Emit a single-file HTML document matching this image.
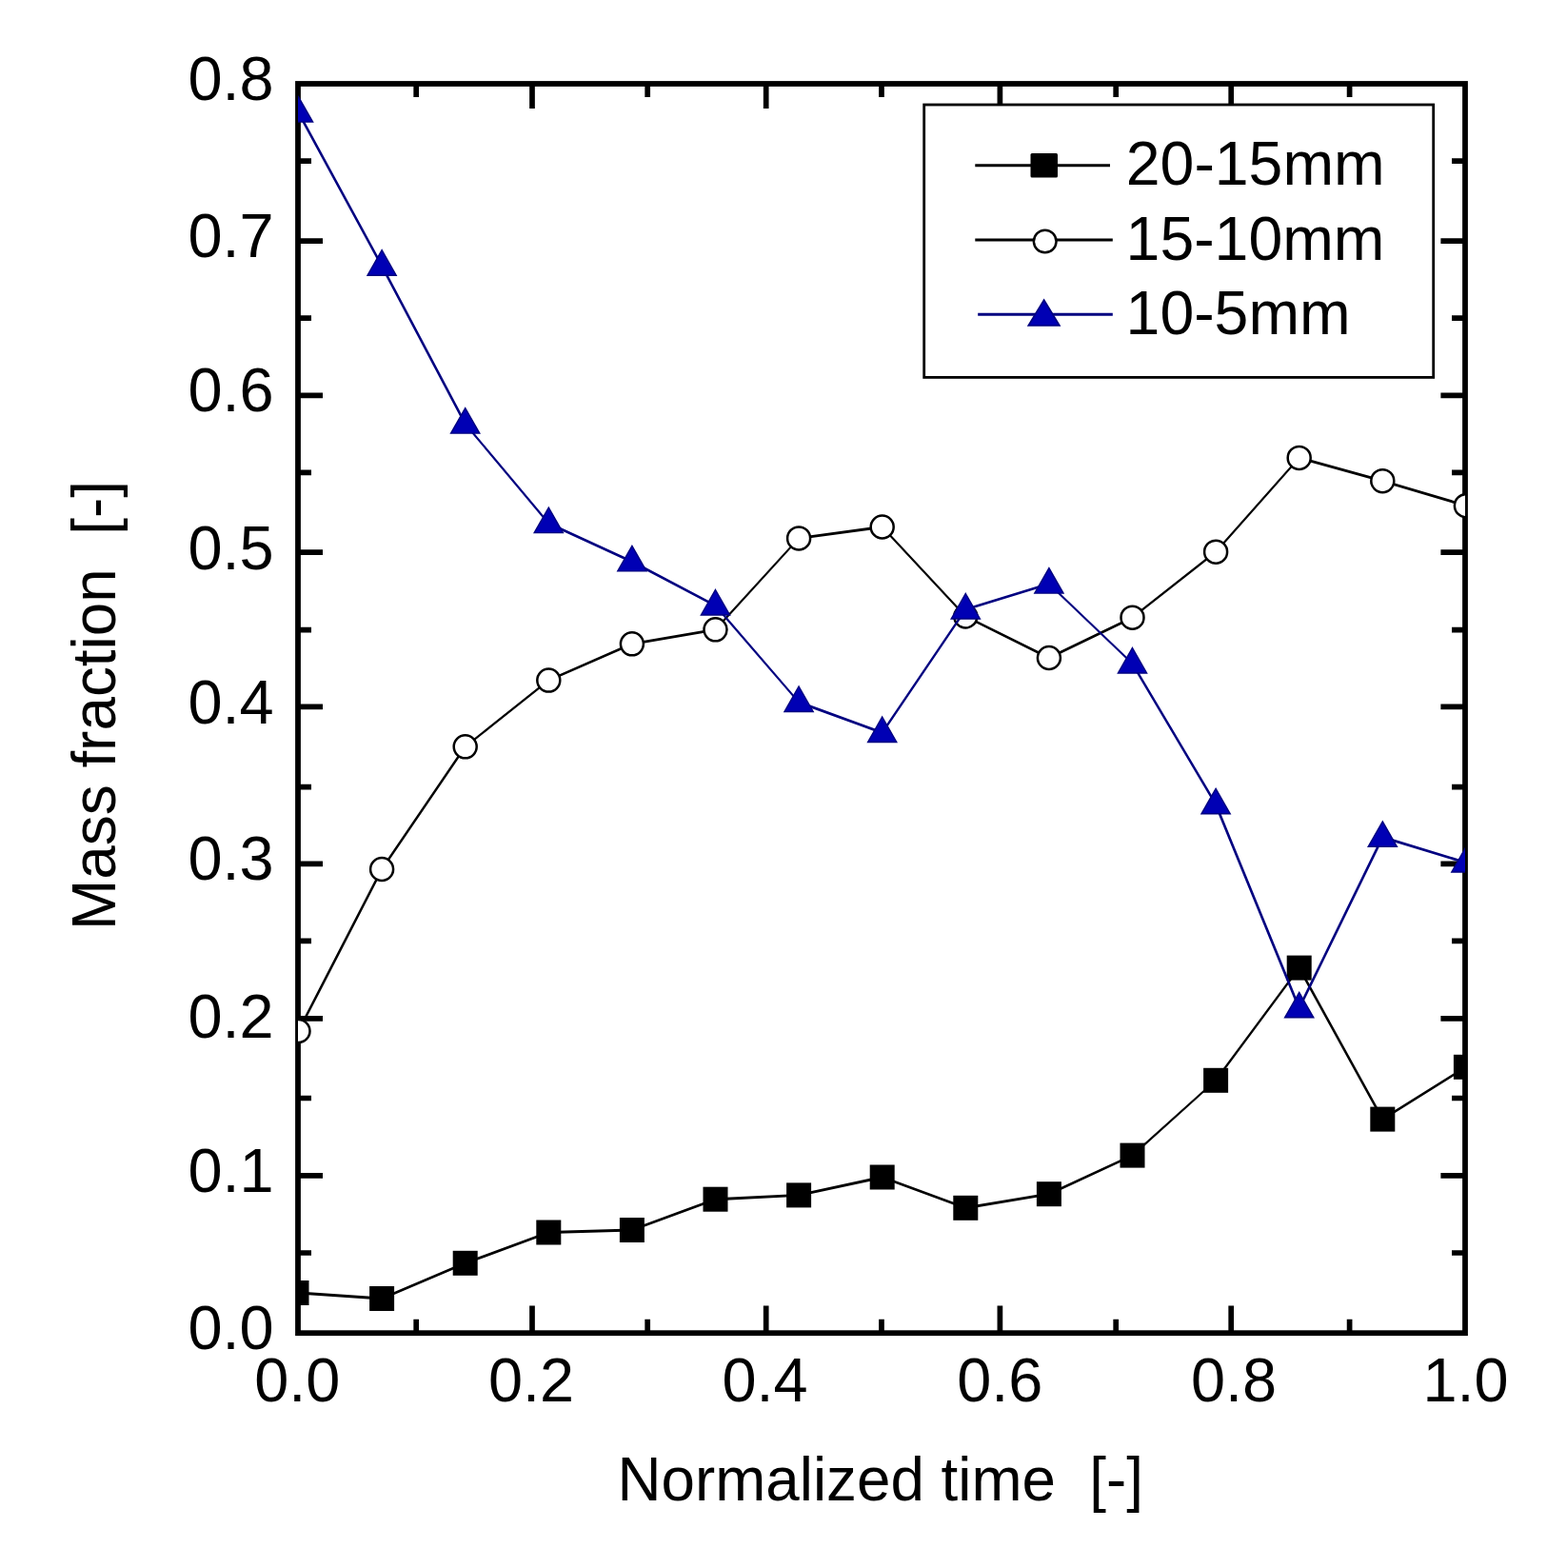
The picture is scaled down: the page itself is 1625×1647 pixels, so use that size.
<!DOCTYPE html>
<html><head><meta charset="utf-8"><title>Mass fraction vs normalized time</title>
<style>html,body{margin:0;padding:0;background:#fff;}body{width:1625px;height:1647px;overflow:hidden;}svg{display:block;}</style>
</head><body>
<svg width="1625" height="1647" viewBox="0 0 1625 1647">
<defs><clipPath id="pc"><rect x="313.0" y="88.0" width="1226.0" height="1312.2"/></clipPath></defs>
<rect width="1625" height="1647" fill="#fff"/>
<path d="M437.2 1400.2V1385.8M437.2 88.0V102.0M559.0 1400.2V1371.4M559.0 88.0V114.0M680.2 1400.2V1385.8M680.2 88.0V102.0M804.7 1400.2V1371.4M804.7 88.0V114.0M926.0 1400.2V1385.8M926.0 88.0V102.0M1050.4 1400.2V1371.4M1050.4 88.0V114.0M1172.2 1400.2V1385.8M1172.2 88.0V102.0M1293.2 1400.2V1371.4M1293.2 88.0V114.0M1417.6 1400.2V1385.8M1417.6 88.0V102.0M313.0 1316.0H327.0M1539.0 1316.0H1525.0M313.0 1234.9H339.0M1539.0 1234.9H1513.4M313.0 1153.5H327.0M1539.0 1153.5H1525.0M313.0 1069.9H339.0M1539.0 1069.9H1513.4M313.0 988.4H327.0M1539.0 988.4H1525.0M313.0 907.4H339.0M1539.0 907.4H1513.4M313.0 826.7H327.0M1539.0 826.7H1525.0M313.0 742.3H339.0M1539.0 742.3H1513.4M313.0 661.6H327.0M1539.0 661.6H1525.0M313.0 580.2H339.0M1539.0 580.2H1513.4M313.0 496.4H327.0M1539.0 496.4H1525.0M313.0 415.3H339.0M1539.0 415.3H1513.4M313.0 334.2H327.0M1539.0 334.2H1525.0M313.0 253.1H339.0M1539.0 253.1H1513.4M313.0 169.1H327.0M1539.0 169.1H1525.0" stroke="#000" stroke-width="5.7" fill="none"/>
<rect x="313.0" y="88.0" width="1226.0" height="1312.2" fill="none" stroke="#000" stroke-width="5.8"/>
<g clip-path="url(#pc)">
<g stroke="#000" stroke-linecap="round"><line x1="313.5" y1="1358.0" x2="401.1" y2="1364.0" stroke-width="2.89"/><line x1="401.1" y1="1364.0" x2="488.7" y2="1326.8" stroke-width="2.67"/><line x1="488.7" y1="1326.8" x2="576.3" y2="1294.5" stroke-width="2.72"/><line x1="576.3" y1="1294.5" x2="663.9" y2="1292.0" stroke-width="2.90"/><line x1="663.9" y1="1292.0" x2="751.5" y2="1259.7" stroke-width="2.72"/><line x1="751.5" y1="1259.7" x2="839.1" y2="1255.4" stroke-width="2.90"/><line x1="839.1" y1="1255.4" x2="926.7" y2="1236.5" stroke-width="2.83"/><line x1="926.7" y1="1236.5" x2="1014.3" y2="1268.8" stroke-width="2.72"/><line x1="1014.3" y1="1268.8" x2="1101.9" y2="1254.2" stroke-width="2.86"/><line x1="1101.9" y1="1254.2" x2="1189.5" y2="1213.6" stroke-width="2.63"/><line x1="1189.5" y1="1213.6" x2="1277.1" y2="1134.8" stroke-width="2.16"/><line x1="1277.1" y1="1134.8" x2="1364.7" y2="1016.6" stroke-width="2.33"/><line x1="1364.7" y1="1016.6" x2="1452.3" y2="1175.6" stroke-width="2.54"/><line x1="1452.3" y1="1175.6" x2="1539.9" y2="1120.8" stroke-width="2.46"/></g>
<rect x="298.5" y="1345.0" width="26" height="26" fill="#000"/>
<rect x="388.1" y="1351.0" width="26" height="26" fill="#000"/>
<rect x="475.7" y="1313.8" width="26" height="26" fill="#000"/>
<rect x="563.3" y="1281.5" width="26" height="26" fill="#000"/>
<rect x="650.9" y="1279.0" width="26" height="26" fill="#000"/>
<rect x="738.5" y="1246.7" width="26" height="26" fill="#000"/>
<rect x="826.1" y="1242.4" width="26" height="26" fill="#000"/>
<rect x="913.7" y="1223.5" width="26" height="26" fill="#000"/>
<rect x="1001.3" y="1255.8" width="26" height="26" fill="#000"/>
<rect x="1088.9" y="1241.2" width="26" height="26" fill="#000"/>
<rect x="1176.5" y="1200.6" width="26" height="26" fill="#000"/>
<rect x="1264.1" y="1121.8" width="26" height="26" fill="#000"/>
<rect x="1351.7" y="1003.6" width="26" height="26" fill="#000"/>
<rect x="1439.3" y="1162.6" width="26" height="26" fill="#000"/>
<rect x="1526.9" y="1107.8" width="26" height="26" fill="#000"/>
<g stroke="#000" stroke-linecap="round"><line x1="313.5" y1="1083.0" x2="401.1" y2="913.0" stroke-width="2.58"/><line x1="401.1" y1="913.0" x2="488.7" y2="784.3" stroke-width="2.40"/><line x1="488.7" y1="784.3" x2="576.3" y2="714.6" stroke-width="2.27"/><line x1="576.3" y1="714.6" x2="663.9" y2="676.3" stroke-width="2.66"/><line x1="663.9" y1="676.3" x2="751.5" y2="661.3" stroke-width="2.86"/><line x1="751.5" y1="661.3" x2="839.1" y2="565.4" stroke-width="2.14"/><line x1="839.1" y1="565.4" x2="926.7" y2="553.5" stroke-width="2.87"/><line x1="926.7" y1="553.5" x2="1014.3" y2="647.5" stroke-width="2.12"/><line x1="1014.3" y1="647.5" x2="1101.9" y2="691.0" stroke-width="2.60"/><line x1="1101.9" y1="691.0" x2="1189.5" y2="648.7" stroke-width="2.61"/><line x1="1189.5" y1="648.7" x2="1277.1" y2="579.7" stroke-width="2.28"/><line x1="1277.1" y1="579.7" x2="1364.7" y2="480.9" stroke-width="2.17"/><line x1="1364.7" y1="480.9" x2="1452.3" y2="505.2" stroke-width="2.79"/><line x1="1452.3" y1="505.2" x2="1539.9" y2="531.2" stroke-width="2.78"/></g>
<circle cx="313.5" cy="1083.0" r="12.0" fill="#fff" stroke="#000" stroke-width="2.5"/>
<circle cx="401.1" cy="913.0" r="12.0" fill="#fff" stroke="#000" stroke-width="2.5"/>
<circle cx="488.7" cy="784.3" r="12.0" fill="#fff" stroke="#000" stroke-width="2.5"/>
<circle cx="576.3" cy="714.6" r="12.0" fill="#fff" stroke="#000" stroke-width="2.5"/>
<circle cx="663.9" cy="676.3" r="12.0" fill="#fff" stroke="#000" stroke-width="2.5"/>
<circle cx="751.5" cy="661.3" r="12.0" fill="#fff" stroke="#000" stroke-width="2.5"/>
<circle cx="839.1" cy="565.4" r="12.0" fill="#fff" stroke="#000" stroke-width="2.5"/>
<circle cx="926.7" cy="553.5" r="12.0" fill="#fff" stroke="#000" stroke-width="2.5"/>
<circle cx="1014.3" cy="647.5" r="12.0" fill="#fff" stroke="#000" stroke-width="2.5"/>
<circle cx="1101.9" cy="691.0" r="12.0" fill="#fff" stroke="#000" stroke-width="2.5"/>
<circle cx="1189.5" cy="648.7" r="12.0" fill="#fff" stroke="#000" stroke-width="2.5"/>
<circle cx="1277.1" cy="579.7" r="12.0" fill="#fff" stroke="#000" stroke-width="2.5"/>
<circle cx="1364.7" cy="480.9" r="12.0" fill="#fff" stroke="#000" stroke-width="2.5"/>
<circle cx="1452.3" cy="505.2" r="12.0" fill="#fff" stroke="#000" stroke-width="2.5"/>
<circle cx="1539.9" cy="531.2" r="12.0" fill="#fff" stroke="#000" stroke-width="2.5"/>
<g stroke="#000080" stroke-linecap="round"><line x1="313.5" y1="118.2" x2="401.1" y2="279.3" stroke-width="2.55"/><line x1="401.1" y1="279.3" x2="488.7" y2="445.2" stroke-width="2.56"/><line x1="488.7" y1="445.2" x2="576.3" y2="549.7" stroke-width="2.22"/><line x1="576.3" y1="549.7" x2="663.9" y2="590.0" stroke-width="2.63"/><line x1="663.9" y1="590.0" x2="751.5" y2="636.1" stroke-width="2.57"/><line x1="751.5" y1="636.1" x2="839.1" y2="737.6" stroke-width="2.20"/><line x1="839.1" y1="737.6" x2="926.7" y2="769.6" stroke-width="2.72"/><line x1="926.7" y1="769.6" x2="1014.3" y2="640.1" stroke-width="2.40"/><line x1="1014.3" y1="640.1" x2="1101.9" y2="613.2" stroke-width="2.77"/><line x1="1101.9" y1="613.2" x2="1189.5" y2="697.1" stroke-width="2.09"/><line x1="1189.5" y1="697.1" x2="1277.1" y2="844.9" stroke-width="2.49"/><line x1="1277.1" y1="844.9" x2="1364.7" y2="1058.9" stroke-width="2.68"/><line x1="1364.7" y1="1058.9" x2="1452.3" y2="879.4" stroke-width="2.61"/><line x1="1452.3" y1="879.4" x2="1539.9" y2="906.1" stroke-width="2.77"/></g>
<path d="M313.5 101.6L328.6 128.1L298.4 128.1Z" fill="#0000b4" stroke="#000080" stroke-width="1.4" stroke-linejoin="miter"/>
<path d="M401.1 262.7L416.2 289.2L386.0 289.2Z" fill="#0000b4" stroke="#000080" stroke-width="1.4" stroke-linejoin="miter"/>
<path d="M488.7 428.6L503.8 455.1L473.6 455.1Z" fill="#0000b4" stroke="#000080" stroke-width="1.4" stroke-linejoin="miter"/>
<path d="M576.3 533.1L591.4 559.6L561.2 559.6Z" fill="#0000b4" stroke="#000080" stroke-width="1.4" stroke-linejoin="miter"/>
<path d="M663.9 573.4L679.0 599.9L648.8 599.9Z" fill="#0000b4" stroke="#000080" stroke-width="1.4" stroke-linejoin="miter"/>
<path d="M751.5 619.5L766.6 646.0L736.4 646.0Z" fill="#0000b4" stroke="#000080" stroke-width="1.4" stroke-linejoin="miter"/>
<path d="M839.1 721.0L854.2 747.5L824.0 747.5Z" fill="#0000b4" stroke="#000080" stroke-width="1.4" stroke-linejoin="miter"/>
<path d="M926.7 753.0L941.8 779.5L911.6 779.5Z" fill="#0000b4" stroke="#000080" stroke-width="1.4" stroke-linejoin="miter"/>
<path d="M1014.3 623.5L1029.4 650.0L999.2 650.0Z" fill="#0000b4" stroke="#000080" stroke-width="1.4" stroke-linejoin="miter"/>
<path d="M1101.9 596.6L1117.0 623.1L1086.8 623.1Z" fill="#0000b4" stroke="#000080" stroke-width="1.4" stroke-linejoin="miter"/>
<path d="M1189.5 680.5L1204.6 707.0L1174.4 707.0Z" fill="#0000b4" stroke="#000080" stroke-width="1.4" stroke-linejoin="miter"/>
<path d="M1277.1 828.3L1292.2 854.8L1262.0 854.8Z" fill="#0000b4" stroke="#000080" stroke-width="1.4" stroke-linejoin="miter"/>
<path d="M1364.7 1042.3L1379.8 1068.8L1349.6 1068.8Z" fill="#0000b4" stroke="#000080" stroke-width="1.4" stroke-linejoin="miter"/>
<path d="M1452.3 862.8L1467.4 889.3L1437.2 889.3Z" fill="#0000b4" stroke="#000080" stroke-width="1.4" stroke-linejoin="miter"/>
<path d="M1539.9 889.5L1555.0 916.0L1524.8 916.0Z" fill="#0000b4" stroke="#000080" stroke-width="1.4" stroke-linejoin="miter"/>
</g>
<rect x="970.7" y="110.0" width="535.0" height="286.4" fill="#fff" stroke="#000" stroke-width="2.8"/>
<path d="M1024.3 173.7H1166M1024.3 252H1168.8" stroke="#000" stroke-width="2.9"/>
<path d="M1027.2 330.3H1168.8" stroke="#000080" stroke-width="2.9"/>
<rect x="1082.5" y="161" width="28.5" height="25.5" rx="1.5" fill="#000"/>
<circle cx="1097.7" cy="253.5" r="11.8" fill="#fff" stroke="#000" stroke-width="2.5"/>
<path d="M1096.6 315L1113 342L1080.2 342Z" fill="#0000b4" stroke="#000080" stroke-width="1.6"/>
<text font-family="'Liberation Sans', Arial, sans-serif" font-size="64.5" transform="translate(1182.8 194.0) scale(0.998 1)">20-15mm</text>
<text font-family="'Liberation Sans', Arial, sans-serif" font-size="64.5" transform="translate(1182.6 272.8) scale(0.998 1)">15-10mm</text>
<text font-family="'Liberation Sans', Arial, sans-serif" font-size="64.5" transform="translate(1182.6 351.0) scale(0.998 1)">10-5mm</text>
<text font-family="'Liberation Sans', Arial, sans-serif" font-size="65.5" transform="translate(267.3 1472.2) scale(0.990 1)">0.0</text>
<text font-family="'Liberation Sans', Arial, sans-serif" font-size="65.5" transform="translate(513.0 1472.2) scale(0.990 1)">0.2</text>
<text font-family="'Liberation Sans', Arial, sans-serif" font-size="65.5" transform="translate(758.5 1472.2) scale(0.990 1)">0.4</text>
<text font-family="'Liberation Sans', Arial, sans-serif" font-size="65.5" transform="translate(1005.3 1472.2) scale(0.990 1)">0.6</text>
<text font-family="'Liberation Sans', Arial, sans-serif" font-size="65.5" transform="translate(1250.9 1472.2) scale(0.990 1)">0.8</text>
<text font-family="'Liberation Sans', Arial, sans-serif" font-size="65.5" transform="translate(1494.4 1472.2) scale(0.990 1)">1.0</text>
<text font-family="'Liberation Sans', Arial, sans-serif" font-size="65.5" transform="translate(197.5 1416.9) scale(0.990 1)">0.0</text>
<text font-family="'Liberation Sans', Arial, sans-serif" font-size="65.5" transform="translate(197.5 1252.1) scale(0.990 1)">0.1</text>
<text font-family="'Liberation Sans', Arial, sans-serif" font-size="65.5" transform="translate(197.5 1089.8) scale(0.990 1)">0.2</text>
<text font-family="'Liberation Sans', Arial, sans-serif" font-size="65.5" transform="translate(197.5 924.4) scale(0.990 1)">0.3</text>
<text font-family="'Liberation Sans', Arial, sans-serif" font-size="65.5" transform="translate(197.5 759.8) scale(0.990 1)">0.4</text>
<text font-family="'Liberation Sans', Arial, sans-serif" font-size="65.5" transform="translate(197.5 597.5) scale(0.990 1)">0.5</text>
<text font-family="'Liberation Sans', Arial, sans-serif" font-size="65.5" transform="translate(197.5 432.1) scale(0.990 1)">0.6</text>
<text font-family="'Liberation Sans', Arial, sans-serif" font-size="65.5" transform="translate(197.5 270.3) scale(0.990 1)">0.7</text>
<text font-family="'Liberation Sans', Arial, sans-serif" font-size="65.5" transform="translate(197.5 105.1) scale(0.990 1)">0.8</text>
<text font-family="'Liberation Sans', Arial, sans-serif" font-size="65.5" transform="translate(648.6 1576.0) scale(0.973 1)">Normalized time  [-]</text>
<text font-family="'Liberation Sans', Arial, sans-serif" font-size="65.5" transform="translate(121.3 976.9) rotate(-90) scale(0.975 1)">Mass fraction  [-]</text>
</svg>
</body></html>
